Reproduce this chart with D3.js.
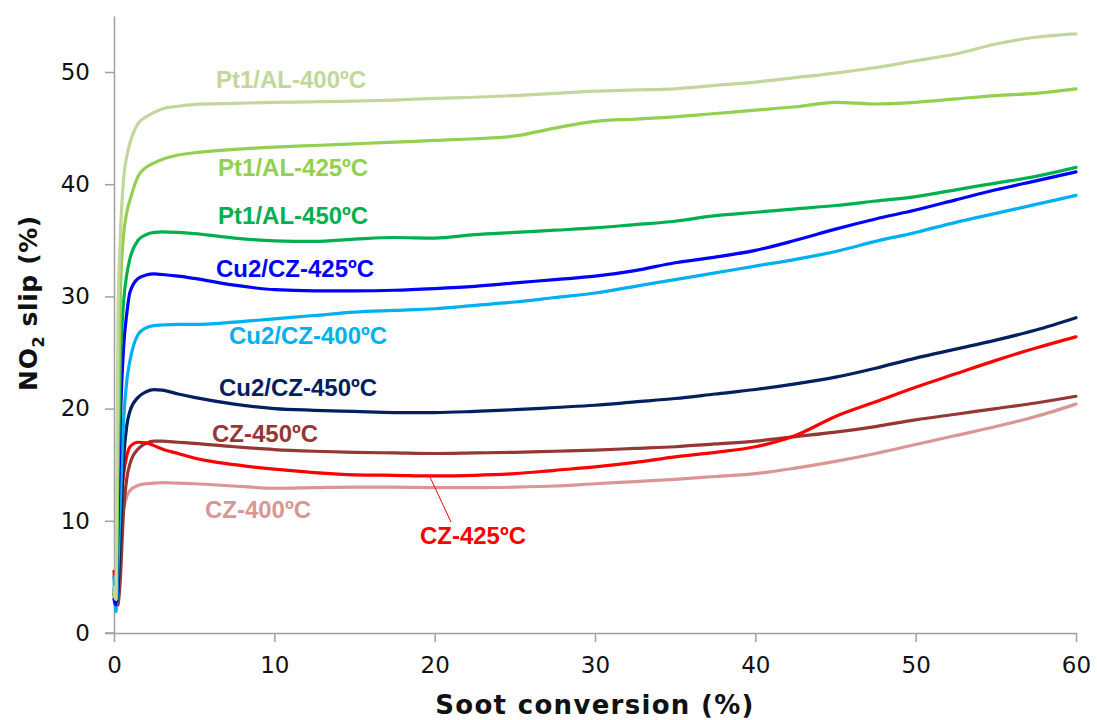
<!DOCTYPE html>
<html><head><meta charset="utf-8">
<script src="https://cdn.jsdelivr.net/npm/d3@7"></script>
<style>
html,body{margin:0;padding:0;background:#fff;}
svg{display:block;}
</style></head>
<body>
<svg id="chart" width="1097" height="720"></svg>
<script>
// ---- data ----
const conversion = [0, 0.12, 0.25, 0.4, 0.6, 0.8, 1, 1.5, 2, 2.5, 3, 4, 5, 7.5, 10, 12.5, 15, 17.5, 20, 22.5, 25, 27.5, 30, 32.5, 35, 37.5, 40, 42.5, 45, 47.5, 50, 52.5, 55, 57.5, 60];

const pt1al400 = [4, 3, 28, 35.5, 40.5, 42.5, 43.7, 45.4, 46.0, 46.4, 46.7, 46.95, 47.1, 47.2, 47.3, 47.35, 47.4, 47.5, 47.65, 47.75, 47.9, 48.1, 48.3, 48.4, 48.5, 48.8, 49.1, 49.5, 49.9, 50.4, 51.0, 51.6, 52.5, 53.1, 53.4];
const pt1al425 = [3.5, 3, 18, 30.5, 35.5, 37.5, 38.6, 40.7, 41.5, 41.9, 42.2, 42.6, 42.8, 43.1, 43.3, 43.45, 43.6, 43.75, 43.9, 44.05, 44.3, 45.0, 45.6, 45.8, 46.0, 46.3, 46.6, 46.9, 47.3, 47.15, 47.3, 47.6, 47.9, 48.1, 48.5];
const pt1al450 = [3.5, 3, 14, 24, 29.5, 32, 33.4, 35.0, 35.5, 35.7, 35.75, 35.7, 35.6, 35.2, 34.95, 34.9, 35.1, 35.25, 35.2, 35.5, 35.7, 35.9, 36.1, 36.4, 36.7, 37.2, 37.5, 37.8, 38.1, 38.5, 38.9, 39.5, 40.1, 40.7, 41.5];
const cu2cz425 = [3, 2.5, 10, 19, 25.5, 28.5, 30.4, 31.6, 31.9, 32.0, 31.95, 31.8, 31.6, 31.0, 30.6, 30.5, 30.5, 30.55, 30.7, 30.9, 31.2, 31.5, 31.8, 32.3, 33.0, 33.5, 34.1, 35.0, 36.0, 36.9, 37.7, 38.6, 39.5, 40.3, 41.1];
const cu2cz400 = [5, 1.9, 6, 12, 19, 22.5, 24.3, 26.6, 27.2, 27.4, 27.45, 27.5, 27.5, 27.7, 28.0, 28.3, 28.6, 28.75, 28.9, 29.2, 29.5, 29.9, 30.3, 30.9, 31.5, 32.1, 32.7, 33.3, 34.0, 34.9, 35.7, 36.6, 37.4, 38.2, 39.0];
const cu2cz450 = [4, 2.5, 4, 9, 15.5, 18.5, 19.8, 21.0, 21.5, 21.7, 21.65, 21.3, 21.0, 20.4, 20.0, 19.85, 19.75, 19.65, 19.65, 19.75, 19.9, 20.1, 20.3, 20.6, 20.9, 21.3, 21.7, 22.2, 22.8, 23.6, 24.5, 25.3, 26.1, 27.0, 28.1];
const cz450 = [3.5, 2.4, 2.5, 5, 11, 13.8, 15.1, 16.4, 16.9, 17.1, 17.1, 17.0, 16.9, 16.6, 16.35, 16.2, 16.1, 16.05, 16.0, 16.05, 16.1, 16.2, 16.3, 16.45, 16.6, 16.85, 17.1, 17.5, 17.9, 18.4, 19.0, 19.5, 20.0, 20.5, 21.1];
const cz425 = [5.5, 4, 7, 11, 14.2, 15.8, 16.6, 17.0, 16.95, 16.7, 16.4, 16.0, 15.6, 15.0, 14.6, 14.3, 14.1, 14.05, 14.0, 14.05, 14.2, 14.5, 14.8, 15.2, 15.7, 16.1, 16.6, 17.6, 19.3, 20.6, 21.9, 23.1, 24.3, 25.4, 26.4];
const cz400 = [5, 4.5, 6, 8.5, 11, 12.2, 12.7, 13.15, 13.3, 13.35, 13.4, 13.35, 13.3, 13.1, 12.9, 12.95, 13.0, 13.0, 12.95, 12.95, 13.0, 13.1, 13.3, 13.5, 13.7, 13.95, 14.2, 14.7, 15.3, 16.0, 16.8, 17.6, 18.4, 19.3, 20.4];

const seriesNames = ["CZ-400ºC", "CZ-450ºC", "CZ-425ºC", "Cu2/CZ-450ºC", "Cu2/CZ-400ºC", "Cu2/CZ-425ºC", "Pt1/AL-450ºC", "Pt1/AL-425ºC", "Pt1/AL-400ºC"];
const seriesValues = [cz400, cz450, cz425, cu2cz450, cu2cz400, cu2cz425, pt1al450, pt1al425, pt1al400];
const seriesColors = ["#d99694", "#953735", "#ff0000", "#002060", "#00b0f0", "#0000ff", "#00b050", "#92d050", "#c3d69b"];

const xTicks = [0, 10, 20, 30, 40, 50, 60];
const yTicks = [0, 10, 20, 30, 40, 50];

// label anchors in data units (left, baseline)
const labelX = [5.67, 6.11, 19.08, 6.55, 7.17, 6.36, 6.49, 6.49, 6.36];
const labelY = [10.29, 17.02, 7.93, 21.12, 25.76, 31.73, 36.45, 40.73, 48.57];

// ---- chart ----
const svg = d3.select("#chart");
const x = d3.scaleLinear().domain([0, 60]).range([114, 1076]);
const y = d3.scaleLinear().domain([0, 55]).range([633, 15.9]);

const axisColor = "#a0a0a0";

const gx = svg.append("g").attr("transform", "translate(0,633)")
  .call(d3.axisBottom(x).tickValues(xTicks).tickSize(9).tickPadding(15).tickSizeOuter(0).tickFormat(d3.format("d")));
const gy = svg.append("g").attr("transform", "translate(114,0)")
  .call(d3.axisLeft(y).tickValues(yTicks).tickSize(9).tickPadding(15).tickSizeOuter(0).tickFormat(d3.format("d")));

[gx, gy].forEach(g => {
  g.select(".domain").attr("stroke", axisColor).attr("stroke-width", 1.5);
  g.selectAll(".tick line").attr("stroke", axisColor).attr("stroke-width", 1.5);
  g.selectAll(".tick text").attr("fill", "#111").style("font-family", "'DejaVu Sans', Verdana, sans-serif").style("font-size", "23px");
});
gx.append("line").attr("x1", 105).attr("x2", 114).attr("y1", 0).attr("y2", 0).attr("stroke", axisColor).attr("stroke-width", 1.5);

const line = d3.line()
  .x((d, i) => x(conversion[i]))
  .y(d => y(d))
  .curve(d3.curveMonotoneX);

const plot = svg.append("g");
seriesValues.forEach((vals, k) => {
  plot.append("path")
    .datum(vals)
    .attr("d", line)
    .attr("fill", "none")
    .attr("stroke", seriesColors[k])
    .attr("stroke-width", 3.2)
    .attr("stroke-linejoin", "round")
    .attr("stroke-linecap", "round");
});

// leader line for CZ-425
svg.append("line")
  .attr("x1", x(19.65)).attr("y1", y(14.08))
  .attr("x2", x(21.02)).attr("y2", y(9.89))
  .attr("stroke", "#ff0000").attr("stroke-width", 1);

// labels
seriesNames.forEach((name, k) => {
  svg.append("text")
    .attr("x", x(labelX[k]))
    .attr("y", y(labelY[k]))
    .attr("fill", seriesColors[k])
    .style("font-family", "'Liberation Sans', Arial, sans-serif")
    .style("font-weight", "bold")
    .style("font-size", "24px")
    .text(name);
});

// axis titles
svg.append("text")
  .attr("x", 595).attr("y", 714)
  .attr("text-anchor", "middle")
  .attr("fill", "#111")
  .style("font-family", "'DejaVu Sans', Verdana, sans-serif")
  .style("font-weight", "bold")
  .style("font-size", "26px")
  .style("letter-spacing", "1.3px")
  .text("Soot conversion (%)");

const yt = svg.append("text")
  .attr("transform", "translate(37,303) rotate(-90)")
  .attr("text-anchor", "middle")
  .attr("fill", "#111")
  .style("font-family", "'DejaVu Sans', Verdana, sans-serif")
  .style("font-weight", "bold")
  .style("font-size", "25px")
  .style("letter-spacing", "0.6px");
yt.append("tspan").text("NO");
yt.append("tspan").attr("dy", 7).style("font-size", "16px").text("2");
yt.append("tspan").attr("dy", -7).text(" slip (%)");
</script>
</body></html>
